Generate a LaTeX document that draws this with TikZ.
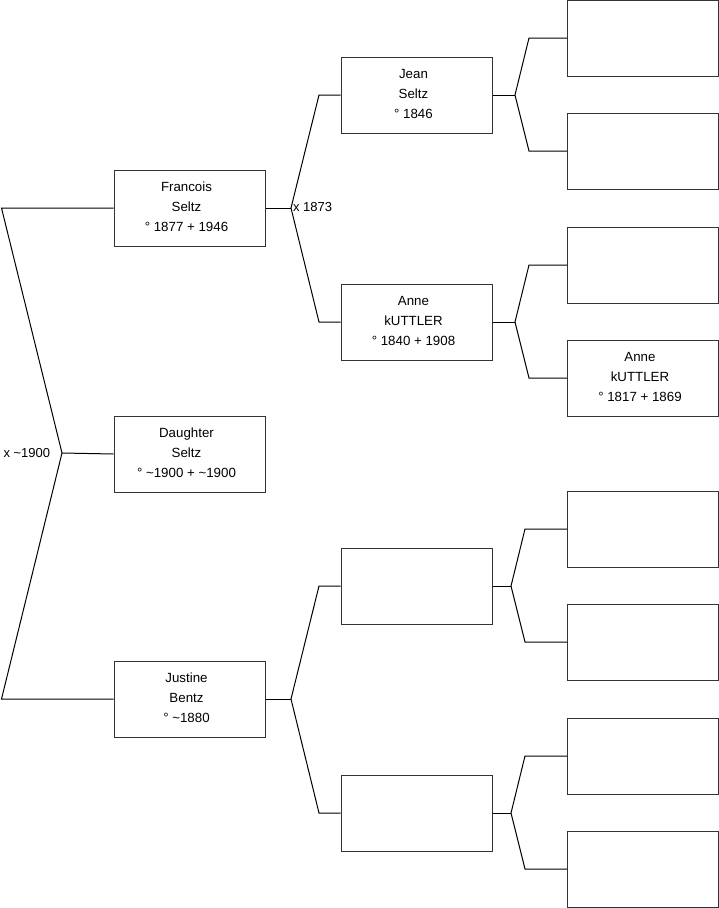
\documentclass[tikz,border=0pt]{standalone}
\usepackage{fontspec}
\setmainfont{Liberation Sans}
\begin{document}
\begin{tikzpicture}[x=1pt,y=-1pt,line width=1pt,
  pbox/.style={draw=black!80, minimum width=151pt, minimum height=76pt, inner sep=0pt},
  ptext/.style={align=center, inner sep=0pt, xshift=-3pt, yshift=1pt,
    font=\fontsize{13.3}{20}\selectfont},
  conn/.style={draw=black},
  lbl/.style={anchor=west, inner sep=0pt, font=\fontsize{13}{15}\selectfont}]
\useasboundingbox (0,0) rectangle (719,908);
% column 1
\node[pbox, label={[ptext]center:{Francois\\Seltz\\° 1877 + 1946}}] (f) at (189.5,208) {};
\node[pbox, label={[ptext]center:{Daughter\\Seltz\\° \textasciitilde1900 + \textasciitilde1900}}] (d) at (189.5,454) {};
\node[pbox, label={[ptext]center:{Justine\\Bentz\\° \textasciitilde1880}}] (j) at (189.5,699) {};
% column 2
\node[pbox, label={[ptext]center:{Jean\\Seltz\\° 1846}}] (jean) at (416.5,95) {};
\node[pbox, label={[ptext]center:{Anne\\kUTTLER\\° 1840 + 1908}}] (anne) at (416.5,322) {};
\node[pbox] (m3) at (416.5,586) {};
\node[pbox] (m4) at (416.5,813) {};
% column 3
\node[pbox] (r1) at (643,38) {};
\node[pbox] (r2) at (643,151) {};
\node[pbox] (r3) at (643,265) {};
\node[pbox, label={[ptext]center:{Anne\\kUTTLER\\° 1817 + 1869}}] (r4) at (643,378) {};
\node[pbox] (r5) at (643,529) {};
\node[pbox] (r6) at (643,642) {};
\node[pbox] (r7) at (643,756) {};
\node[pbox] (r8) at (643,869) {};
% left bracket
\coordinate (lt) at (1.5,208);
\coordinate (lm) at (62,453);
\coordinate (lb) at (1.5,699);
\draw[conn] (f.west) -- (lt) -- (lm) -- (lb) -- (j.west);
\draw[conn] (lm) -- (d.west);
\node[lbl] (m1) at (3,453) {x \textasciitilde1900};
% Francois parents
\coordinate (fa) at (291,208);
\draw[conn] (f.east) -- (fa);
\draw[conn] (jean.west) -- (319,95) -- (fa) -- (319,322) -- (anne.west);
\node[lbl] (m2) at (292.5,207) {x 1873};
% Justine parents
\coordinate (ja) at (291,699);
\draw[conn] (j.east) -- (ja);
\draw[conn] (m3.west) -- (319,586) -- (ja) -- (319,813) -- (m4.west);
% Jean parents
\coordinate (jea) at (515,95);
\draw[conn] (jean.east) -- (jea);
\draw[conn] (r1.west) -- (529,38) -- (jea) -- (529,151) -- (r2.west);
% Anne parents
\coordinate (aa) at (515,322);
\draw[conn] (anne.east) -- (aa);
\draw[conn] (r3.west) -- (529,265) -- (aa) -- (529,378) -- (r4.west);
% m3 parents
\coordinate (m3a) at (511,586);
\draw[conn] (m3.east) -- (m3a);
\draw[conn] (r5.west) -- (525,529) -- (m3a) -- (525,642) -- (r6.west);
% m4 parents
\coordinate (m4a) at (511,813);
\draw[conn] (m4.east) -- (m4a);
\draw[conn] (r7.west) -- (525,756) -- (m4a) -- (525,869) -- (r8.west);
\end{tikzpicture}
\end{document}
